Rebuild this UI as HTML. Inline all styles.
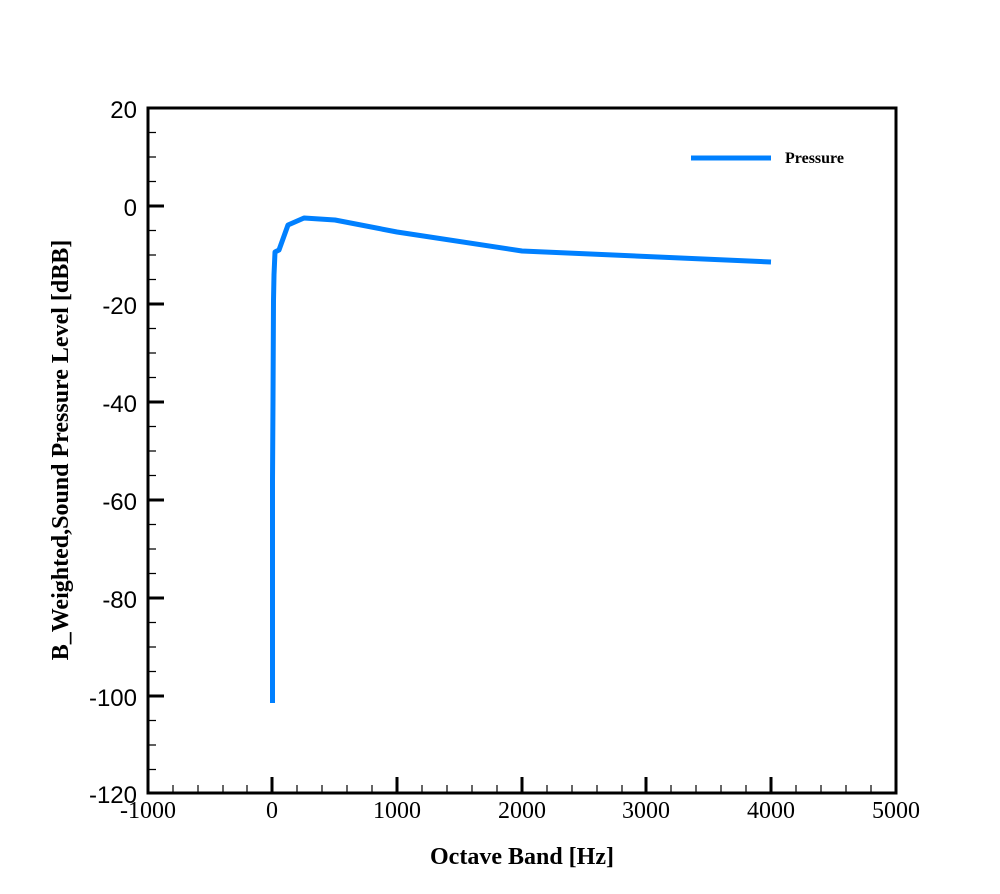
<!DOCTYPE html>
<html><head><meta charset="utf-8"><style>body{margin:0;background:#fff}</style></head><body>
<svg width="1000" height="889" xmlns="http://www.w3.org/2000/svg" font-family="Liberation Sans, sans-serif">
<rect width="1000" height="889" fill="#fff"/>
<g stroke="#000" stroke-width="1.2">
<path d="M173 793v-8M198 793v-8M223 793v-8M247 793v-8M297 793v-8M322 793v-8M347 793v-8M372 793v-8M422 793v-8M447 793v-8M472 793v-8M497 793v-8M547 793v-8M572 793v-8M597 793v-8M622 793v-8M671 793v-8M696 793v-8M721 793v-8M746 793v-8M796 793v-8M821 793v-8M846 793v-8M871 793v-8"/>
<path d="M148 132.5h8M148 157h8M148 181.5h8M148 230.5h8M148 255h8M148 279.5h8M148 328.5h8M148 353h8M148 377.5h8M148 426.5h8M148 451h8M148 475.5h8M148 524.5h8M148 549h8M148 573.5h8M148 622.5h8M148 647h8M148 671.5h8M148 720.5h8M148 745h8M148 769.5h8"/>
</g>
<g stroke="#000" stroke-width="3">
<path d="M272 793v-16M397 793v-16M522 793v-16M646 793v-16M771 793v-16"/>
<path d="M148 206h16M148 304h16M148 402h16M148 500h16M148 598h16M148 696h16"/>
<rect x="148" y="108" width="748" height="685" fill="none"/>
</g>
<polyline fill="none" stroke="#0080ff" stroke-width="5" stroke-linejoin="round" points="272.5,703 272.5,480 273,400 273.5,300 274,275 275,252 279,250 288,225 304,218 335,220 397,232 522,251 771,262"/>
<line x1="691" y1="158" x2="771" y2="158" stroke="#0080ff" stroke-width="5"/>
<text x="785" y="163" font-family="Liberation Serif, serif" font-weight="bold" font-size="16">Pressure</text>
<g font-size="24" text-anchor="end">
<text x="137" y="118">20</text><text x="137" y="216">0</text><text x="137" y="314">-20</text><text x="137" y="412">-40</text><text x="137" y="510">-60</text><text x="137" y="608">-80</text><text x="137" y="706">-100</text><text x="137" y="803">-120</text>
</g>
<g font-size="24" text-anchor="middle" font-family="Liberation Serif, serif">
<text x="148" y="818">-1000</text><text x="272" y="818">0</text><text x="397" y="818">1000</text><text x="522" y="818">2000</text><text x="646" y="818">3000</text><text x="771" y="818">4000</text><text x="896" y="818">5000</text>
</g>
<text x="522" y="864" text-anchor="middle" font-family="Liberation Serif, serif" font-weight="bold" font-size="24">Octave Band [Hz]</text>
<text transform="translate(68,450) rotate(-90)" text-anchor="middle" font-family="Liberation Serif, serif" font-weight="bold" font-size="24">B_Weighted,Sound Pressure Level [dBB]</text>
</svg>
</body></html>
